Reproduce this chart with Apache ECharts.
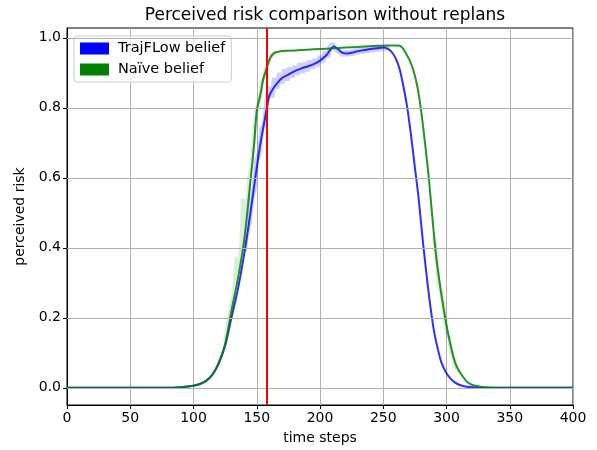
<!DOCTYPE html>
<html>
<head>
<meta charset="utf-8">
<script src="https://cdn.jsdelivr.net/npm/echarts@6/dist/echarts.min.js"></script>
<style>
  html, body { margin: 0; padding: 0; background: #fff; }
  #chart { width: 597px; height: 450px; }
</style>
</head>
<body>
<div id="chart"></div>
<script>
// Time axis ticks and risk axis ticks
const xTicks = [0, 50, 100, 150, 200, 250, 300, 350, 400];
const yTicks = [0.0, 0.2, 0.4, 0.6, 0.8, 1.0];

// Replan marker (time step)
const markerStep = 158;

// TrajFLow belief (smoothed)
const trajT = [0, 80, 90, 100, 105, 110, 115, 120, 125, 130, 135, 140, 145, 150, 153, 156, 158, 160, 163, 166, 170, 175, 180, 185, 190, 195, 200, 205, 208, 211, 214, 218, 222, 226, 230, 235, 240, 245, 250, 254, 257, 260, 263, 266, 269, 272, 275, 278, 281, 284, 287, 290, 293, 296, 300, 303, 306, 310, 315, 320, 330, 400];
const trajV = [0, 0, 0.002, 0.006, 0.011, 0.02, 0.038, 0.07, 0.12, 0.2, 0.28, 0.38, 0.5, 0.63, 0.7, 0.76, 0.8, 0.835, 0.855, 0.87, 0.885, 0.895, 0.905, 0.912, 0.918, 0.925, 0.935, 0.95, 0.965, 0.975, 0.968, 0.957, 0.955, 0.958, 0.962, 0.965, 0.968, 0.97, 0.972, 0.968, 0.958, 0.94, 0.91, 0.86, 0.8, 0.72, 0.63, 0.54, 0.43, 0.33, 0.24, 0.165, 0.113, 0.072, 0.042, 0.027, 0.017, 0.009, 0.004, 0.002, 0, 0];

// TrajFLow belief (raw samples)
const trajRawT = [140, 142, 144, 146, 148, 150, 152, 154, 156, 158, 160, 162, 164, 166, 168, 170, 172, 174, 176, 178, 180, 182, 184, 186, 188, 190, 192, 194, 196, 198, 200, 202, 204, 206, 208, 210, 212, 214, 216, 218, 220, 222, 224, 226, 228, 230, 232, 234, 236, 238, 240, 242, 244, 246, 248, 250, 252, 254];
const trajRawV = [0.39, 0.44, 0.47, 0.54, 0.57, 0.65, 0.67, 0.74, 0.75, 0.82, 0.86, 0.83, 0.885, 0.855, 0.9, 0.87, 0.91, 0.878, 0.915, 0.887, 0.92, 0.894, 0.927, 0.9, 0.93, 0.905, 0.935, 0.912, 0.94, 0.918, 0.948, 0.93, 0.96, 0.945, 0.975, 0.982, 0.97, 0.962, 0.96, 0.95, 0.962, 0.95, 0.962, 0.952, 0.966, 0.956, 0.968, 0.958, 0.97, 0.96, 0.972, 0.962, 0.974, 0.964, 0.976, 0.966, 0.975, 0.968];

// Naïve belief (smoothed)
const naiveT = [0, 80, 90, 100, 105, 110, 115, 120, 125, 130, 135, 140, 145, 148, 150, 153, 155, 158, 161, 164, 168, 175, 185, 195, 205, 215, 225, 235, 245, 255, 262, 265, 268, 271, 274, 277, 280, 283, 286, 289, 292, 295, 298, 301, 304, 307, 310, 313, 316, 320, 326, 330, 340, 400];
const naiveV = [0, 0, 0.002, 0.006, 0.011, 0.02, 0.038, 0.072, 0.125, 0.22, 0.31, 0.42, 0.59, 0.7, 0.79, 0.84, 0.88, 0.915, 0.945, 0.957, 0.961, 0.963, 0.965, 0.967, 0.969, 0.971, 0.973, 0.975, 0.977, 0.978, 0.978, 0.972, 0.955, 0.935, 0.905, 0.86, 0.79, 0.7, 0.6, 0.48, 0.37, 0.29, 0.22, 0.16, 0.11, 0.07, 0.048, 0.032, 0.018, 0.009, 0.004, 0.002, 0, 0];

// Naïve belief (raw samples)
const naiveRawT = [125, 128, 130, 132, 134, 136, 138, 139, 140, 142, 144, 146, 148, 150, 152, 154, 156, 158, 160, 163, 166];
const naiveRawV = [0.13, 0.2, 0.24, 0.27, 0.375, 0.33, 0.42, 0.54, 0.45, 0.5, 0.6, 0.64, 0.72, 0.8, 0.82, 0.87, 0.89, 0.92, 0.94, 0.955, 0.96];
const naiveRaw2T = [290, 292, 294, 296, 298, 300, 302, 304, 306, 308, 310];
const naiveRaw2V = [0.43, 0.38, 0.3, 0.27, 0.23, 0.16, 0.14, 0.1, 0.08, 0.055, 0.045];

const zip = (t, v) => t.map((x, i) => [x, v[i]]);

const FONT = 'DejaVu Sans';
const gridColor = '#b0b0b0';

const chart = echarts.init(document.getElementById('chart'), null, { renderer: 'canvas' });

const option = {
  animation: false,
  backgroundColor: '#ffffff',
  textStyle: { fontFamily: FONT },
  title: {
    text: 'Perceived risk comparison without replans',
    left: 320,
    textAlign: 'center',
    top: 2,
    textStyle: { fontFamily: FONT, fontSize: 17, fontWeight: 'normal', color: '#000' }
  },
  legend: {
    orient: 'vertical',
    left: 74,
    top: 36,
    padding: [5, 6, 5, 6],
    itemWidth: 29,
    itemHeight: 12,
    itemGap: 6,
    icon: 'rect',
    backgroundColor: 'rgba(255,255,255,0.8)',
    borderColor: '#cccccc',
    borderWidth: 1,
    borderRadius: 3,
    textStyle: { fontFamily: FONT, fontSize: 14.5, color: '#000', padding: [0, 0, 0, 4] },
    data: [
      { name: 'TrajFLow belief', itemStyle: { color: '#0000ff' } },
      { name: 'Naïve belief', itemStyle: { color: '#008000' } }
    ]
  },
  grid: {
    left: 67, right: 24, top: 28, bottom: 45,
    show: true, borderColor: '#000', borderWidth: 1, backgroundColor: 'transparent'
  },
  xAxis: {
    type: 'value',
    min: 0, max: 400, interval: 50,
    name: 'time steps',
    nameLocation: 'middle',
    nameGap: 26,
    nameTextStyle: { fontFamily: FONT, fontSize: 14, color: '#000' },
    axisLine: { show: true, onZero: false, lineStyle: { color: '#000', width: 1 } },
    axisTick: { show: true, inside: false, length: 4, lineStyle: { color: '#000' } },
    axisLabel: { fontFamily: FONT, fontSize: 14, color: '#000', margin: 6 },
    splitLine: { show: true, lineStyle: { color: gridColor, width: 1 } }
  },
  yAxis: {
    type: 'value',
    min: -0.049, max: 1.028,
    name: 'perceived risk',
    nameLocation: 'middle',
    nameGap: 38,
    nameRotate: 90,
    nameTextStyle: { fontFamily: FONT, fontSize: 14, color: '#000' },
    axisLine: { show: true, lineStyle: { color: '#000', width: 1 } },
    axisTick: { show: true, inside: false, length: 4, customValues: yTicks, lineStyle: { color: '#000' } },
    axisLabel: {
      fontFamily: FONT, fontSize: 14, color: '#000', margin: 6,
      customValues: yTicks,
      formatter: v => v.toFixed(1)
    },
    splitLine: { show: false }
  },
  series: [
    {
      // horizontal grid lines at the risk ticks
      type: 'line', data: [], z: 1, silent: true,
      markLine: {
        silent: true, symbol: 'none', animation: false,
        label: { show: false },
        lineStyle: { color: gridColor, width: 1, type: 'solid' },
        data: yTicks.map(v => ({ yAxis: v }))
      }
    },
    {
      name: 'TrajFLow raw', type: 'line', data: zip(trajRawT, trajRawV),
      showSymbol: false, z: 2, silent: true,
      lineStyle: { color: 'rgba(40,40,255,0.22)', width: 5 }
    },
    {
      name: 'Naïve raw', type: 'line', data: zip(naiveRawT, naiveRawV),
      showSymbol: false, z: 2, silent: true,
      lineStyle: { color: 'rgba(0,128,0,0.14)', width: 4 }
    },
    {
      name: 'Naïve raw 2', type: 'line', data: zip(naiveRaw2T, naiveRaw2V),
      showSymbol: false, z: 2, silent: true,
      lineStyle: { color: 'rgba(0,128,0,0.14)', width: 4 }
    },
    {
      name: 'TrajFLow belief', type: 'line', data: zip(trajT, trajV),
      showSymbol: false, z: 3, smooth: 0.3,
      itemStyle: { color: '#0000ff' },
      lineStyle: { color: 'rgba(0,0,255,0.82)', width: 2 }
    },
    {
      name: 'Naïve belief', type: 'line', data: zip(naiveT, naiveV),
      showSymbol: false, z: 4, smooth: 0.3,
      itemStyle: { color: '#008000' },
      lineStyle: { color: 'rgba(0,128,0,0.85)', width: 2 }
    },
    {
      // replan marker
      type: 'line', data: [], z: 5, silent: true,
      markLine: {
        silent: true, symbol: 'none', animation: false,
        label: { show: false },
        lineStyle: { color: '#ff0000', width: 2, type: 'solid' },
        data: [{ xAxis: markerStep }]
      }
    }
  ]
};

chart.setOption(option);
</script>
</body>
</html>
